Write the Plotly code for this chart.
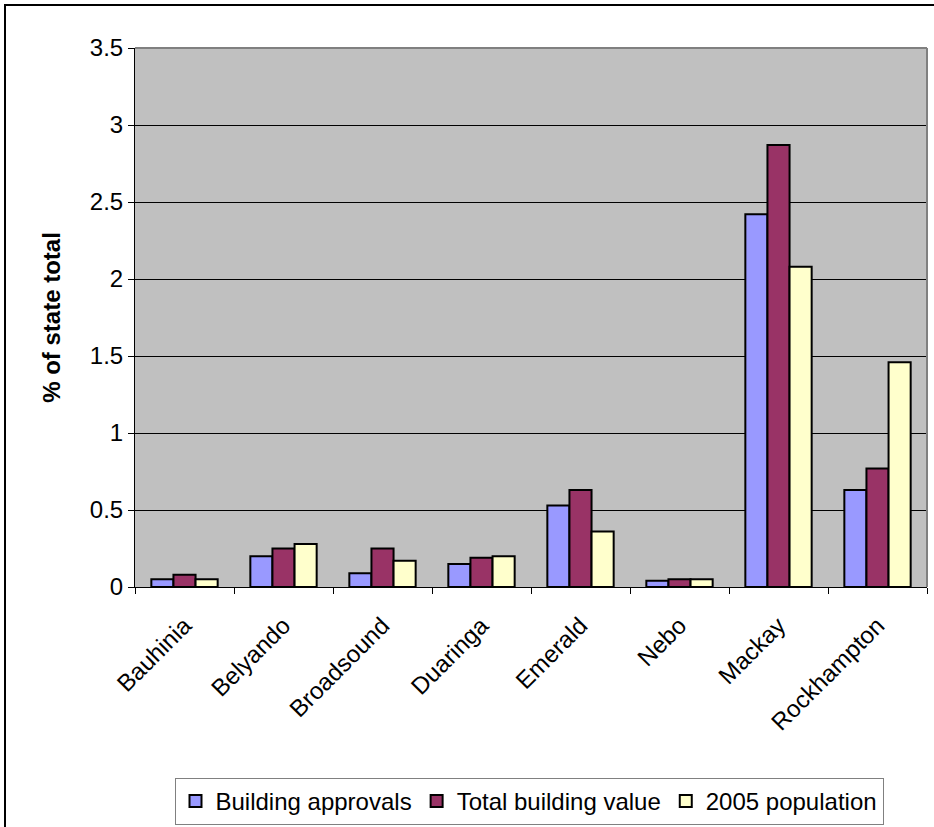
import plotly.graph_objects as go

# Share of the state total, by local government area
areas = ["Bauhinia", "Belyando", "Broadsound", "Duaringa", "Emerald", "Nebo", "Mackay", "Rockhampton"]
building_approvals = [0.05, 0.20, 0.09, 0.15, 0.53, 0.04, 2.42, 0.63]
total_building_value = [0.08, 0.25, 0.25, 0.19, 0.63, 0.05, 2.87, 0.77]
population_2005 = [0.05, 0.28, 0.17, 0.20, 0.36, 0.05, 2.08, 1.46]

series = [
    ("Building approvals", building_approvals, "#9999FF"),
    ("Total building value", total_building_value, "#993366"),
    ("2005 population", population_2005, "#FFFFCC"),
]

W, H = 934, 827
L, R, T, B = 135, 7, 48, 240
pw, ph = W - L - R, H - T - B

fig = go.Figure()
for name, vals, col in series:
    fig.add_trace(go.Bar(
        x=areas, y=vals, name=name,
        marker=dict(color=col, line=dict(color="black", width=2)),
    ))

family = "Liberation Sans, Arial, sans-serif"
font = dict(family=family, size=24, color="black")

fig.update_layout(
    width=W, height=H,
    margin=dict(l=L, r=R, t=T, b=B, autoexpand=False),
    paper_bgcolor="white",
    plot_bgcolor="#C0C0C0",
    font=font,
    barmode="group",
    bargap=0.33,
    bargroupgap=0,
    showlegend=True,
    legend=dict(
        orientation="h",
        xref="container", yref="container",
        x=529 / W, xanchor="center",
        y=2 / H, yanchor="bottom",
        bordercolor="#808080", borderwidth=1,
        bgcolor="white",
        font=dict(family=family, size=24, color="black"),
        itemsizing="constant",
        traceorder="normal",
        itemwidth=30,
        tracegroupgap=0,
    ),
    xaxis=dict(
        automargin=False,
        tickangle=-45,
        ticks="outside", ticklen=6, tickcolor="black",
        tickson="boundaries",
        ticklabelstandoff=14,
        showline=True, linecolor="black", linewidth=1,
        showgrid=False,
        tickfont=font,
        mirror=False,
    ),
    yaxis=dict(
        automargin=False,
        range=[0, 3.5],
        tickvals=[0, 0.5, 1, 1.5, 2, 2.5, 3, 3.5],
        ticktext=["0", "0.5", "1", "1.5", "2", "2.5", "3", "3.5"],
        ticks="outside", ticklen=6, tickcolor="black",
        showline=True, linecolor="black", linewidth=1,
        showgrid=True, gridcolor="black", gridwidth=1,
        zeroline=False,
        tickfont=font,
        title=dict(text="<b>% of state total</b>", font=dict(family=family, size=24, color="black"), standoff=22),
    ),
    shapes=[
        # gray frame on top and right of the plotting area
        dict(type="line", xref="paper", yref="paper", x0=0, x1=1, y0=1, y1=1,
             line=dict(color="#808080", width=2)),
        dict(type="line", xref="paper", yref="paper", x0=1, x1=1, y0=0, y1=1,
             line=dict(color="#808080", width=2)),
        # outer chart border
        dict(type="rect", xref="paper", yref="paper",
             x0=(5 - L) / pw, x1=(W + 5 - L) / pw,
             y0=(T + ph - (H + 5)) / ph, y1=(T + ph - 5) / ph,
             line=dict(color="black", width=2), layer="above"),
    ],
)

fig.write_html("out.html")
